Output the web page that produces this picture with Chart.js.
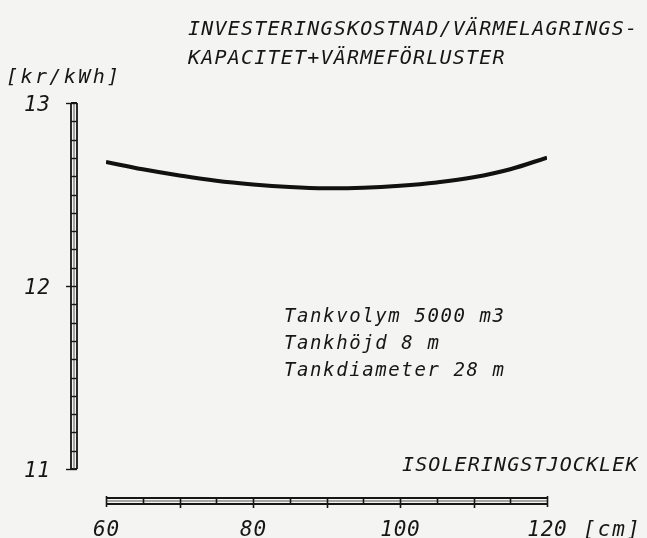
<!DOCTYPE html>
<html>
<head>
<meta charset="utf-8">
<script src="https://cdn.jsdelivr.net/npm/chart.js@4.4.0/dist/chart.umd.min.js"></script>
<style>
  html, body { margin: 0; padding: 0; background: #f4f4f2; }
  canvas { display: block; }
</style>
</head>
<body>
<canvas id="myChart" width="647" height="538"></canvas>
<script>
// Data
let thickness = [60, 65, 70, 75, 80, 85, 90, 95, 100, 105, 110, 115, 120]; // cm
let cost = [12.678, 12.638, 12.604, 12.575, 12.555, 12.541, 12.534, 12.537, 12.548, 12.566, 12.594, 12.638, 12.702]; // kr/kWh

let xTicks = [60, 80, 100, 120];
let yTicks = [11, 12, 13];

let titleLines = ['INVESTERINGSKOSTNAD/VÄRMELAGRINGS-', 'KAPACITET+VÄRMEFÖRLUSTER'];
let yUnit = '[kr/kWh]';
let xUnit = '[cm]';
let xTitle = 'ISOLERINGSTJOCKLEK';
let notes = ['Tankvolym 5000 m3', 'Tankhöjd 8 m', 'Tankdiameter 28 m'];

let ink = '#161616';
let fontFamily = "'DejaVu Sans Mono', monospace";

// draw text with plotter-like letter spacing
function plotText(ctx, text, x, y, size, spacing, align) {
    ctx.save();
    ctx.font = 'italic ' + size + 'px ' + fontFamily;
    ctx.fillStyle = ink;
    ctx.textBaseline = 'alphabetic';
    ctx.letterSpacing = spacing + 'px';
    let w = ctx.measureText(text).width - spacing;
    let left = x;
    if (align === 'center') left = x - w / 2;
    if (align === 'right') left = x - w;
    ctx.textAlign = 'left';
    ctx.fillText(text, left, y);
    ctx.restore();
}

// Plugin for the ladder style axes and the texts
let plotterAxes = {
    id: 'plotterAxes',
    beforeDraw(chart) {
        let ctx = chart.ctx;
        ctx.save();
        ctx.fillStyle = '#f4f4f2';
        ctx.fillRect(0, 0, chart.width, chart.height);
        ctx.restore();
    },
    afterDraw(chart) {
        let ctx = chart.ctx;
        let xs = chart.scales.x;
        let ys = chart.scales.y;
        ctx.save();
        ctx.strokeStyle = ink;

        // y axis bar
        let yl = 71, yr = 77;
        let yTop = ys.getPixelForValue(13), yBot = ys.getPixelForValue(11);
        ctx.lineWidth = 1.8;
        ctx.beginPath();
        ctx.moveTo(yl, yTop); ctx.lineTo(yl, yBot);
        ctx.moveTo(yr, yTop); ctx.lineTo(yr, yBot);
        ctx.moveTo(yl, yTop); ctx.lineTo(yr, yTop);
        ctx.moveTo(yl, yBot); ctx.lineTo(yr, yBot);
        ctx.stroke();
        ctx.lineWidth = 1;
        ctx.strokeStyle = '#555';
        ctx.beginPath();
        ctx.moveTo(74, yTop); ctx.lineTo(74, yBot);
        ctx.stroke();
        ctx.strokeStyle = ink;
        ctx.lineWidth = 1.4;
        for (let v = 110; v <= 130; v++) {
            let py = Math.round(ys.getPixelForValue(v / 10)) + 0.5;
            ctx.beginPath();
            ctx.moveTo(v % 10 === 0 ? yl - 5 : yl, py);
            ctx.lineTo(yr, py);
            ctx.stroke();
        }

        // x axis bar
        let xt = 498, xb = 504;
        let xL = xs.getPixelForValue(60), xR = xs.getPixelForValue(120);
        ctx.lineWidth = 1.8;
        ctx.beginPath();
        ctx.moveTo(xL, xt); ctx.lineTo(xR, xt);
        ctx.moveTo(xL, xb); ctx.lineTo(xR, xb);
        ctx.stroke();
        ctx.lineWidth = 1;
        ctx.strokeStyle = '#555';
        ctx.beginPath();
        ctx.moveTo(xL, 501); ctx.lineTo(xR, 501);
        ctx.stroke();
        ctx.strokeStyle = ink;
        ctx.lineWidth = 1.6;
        for (let v = 60; v <= 120; v += 5) {
            let px = Math.round(xs.getPixelForValue(v)) + 0.5;
            let top = xt, bot = xb;
            if (v % 10 === 0) bot = xb + 4;
            if (v === 60 || v === 120) { top = xt - 2; bot = xb + 3; }
            ctx.beginPath();
            ctx.moveTo(px, top);
            ctx.lineTo(px, bot);
            ctx.stroke();
        }
        ctx.restore();

        // tick labels
        yTicks.forEach(function(t) {
            plotText(ctx, String(t), 50, ys.getPixelForValue(t) + 8, 21, 0.8, 'right');
        });
        xTicks.forEach(function(t) {
            plotText(ctx, String(t), xs.getPixelForValue(t), 536, 21, 0.8, 'center');
        });
        plotText(ctx, xUnit, 583, 536, 21, 2, 'left');

        // titles and notes
        plotText(ctx, titleLines[0], 188, 35, 20, 1.2, 'left');
        plotText(ctx, titleLines[1], 188, 64, 20, 1.2, 'left');
        plotText(ctx, yUnit, 6, 83, 20, 2.4, 'left');
        plotText(ctx, xTitle, 402, 471, 20, 1.1, 'left');
        notes.forEach(function(n, i) {
            plotText(ctx, n, 284, 322 + i * 27, 19, 1.6, 'left');
        });
    }
};

let canvas = document.getElementById('myChart').getContext('2d');

let myChart = new Chart(canvas, {
    type: 'line',
    data: {
        datasets: [{
            data: thickness.map((x, i) => ({ x: x, y: cost[i] })),
            borderColor: '#111',
            borderWidth: 4,
            pointRadius: 0,
            tension: 0.4,
            fill: false
        }]
    },
    options: {
        responsive: false,
        animation: false,
        layout: {
            padding: { left: 106, right: 100, top: 103, bottom: 69 }
        },
        plugins: {
            legend: { display: false },
            title: { display: false },
            tooltip: { enabled: false }
        },
        scales: {
            x: { type: 'linear', min: 60, max: 120, display: false },
            y: { min: 11, max: 13, display: false }
        }
    },
    plugins: [plotterAxes]
});
</script>
</body>
</html>
